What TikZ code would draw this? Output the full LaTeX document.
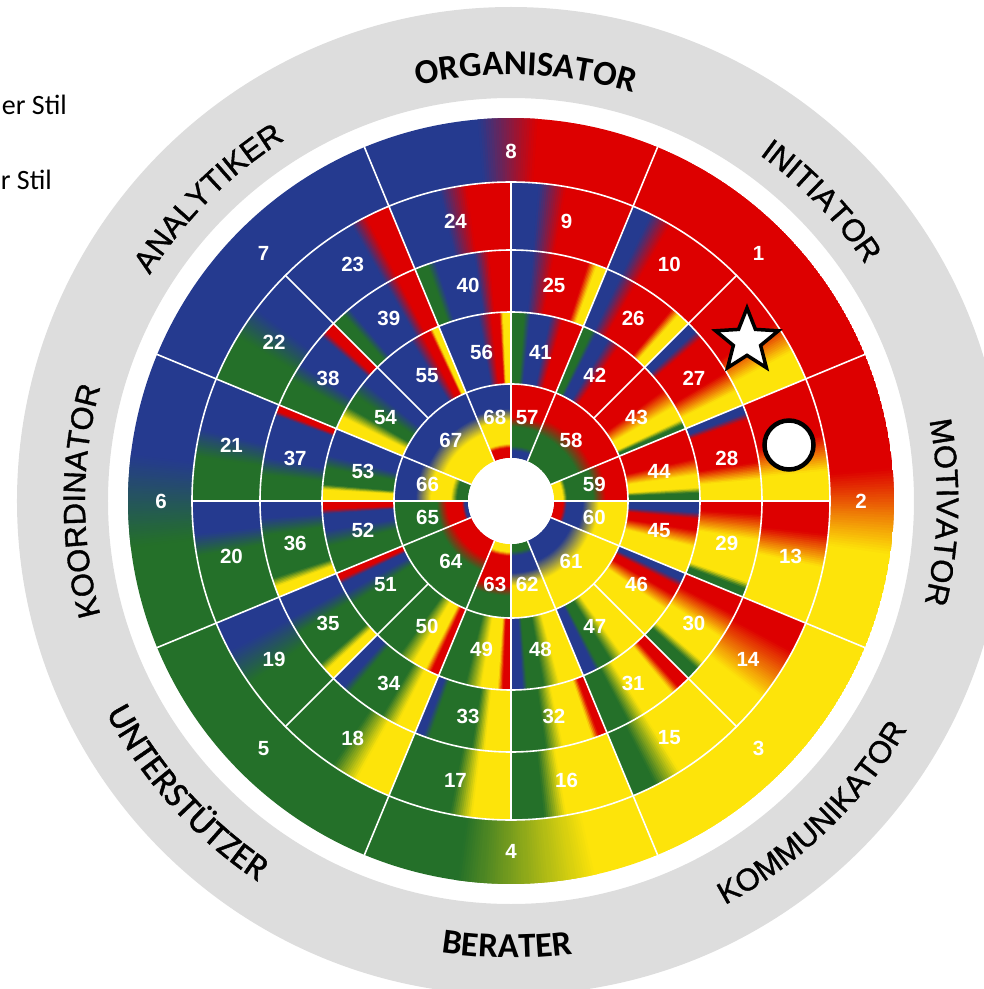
\documentclass[tikz,border=0pt]{standalone}
\usepackage{fontspec}
\usetikzlibrary{decorations.text,shapes.geometric}

\newfontfamily\helv{Liberation Sans}
\newfontfamily\helvmed{Liberation Sans}[FakeBold=1.2]
\newfontfamily\calib{Carlito}
\newfontfamily\calibmed{Carlito}[FakeBold=1.2]
\newcommand\helvcat{\helvmed\fontsize{31}{31}\selectfont}
\newcommand\calibcat{\calib\bfseries\fontsize{35}{35}\selectfont}
\newcommand\calibcatm{\calibmed\fontsize{36}{36}\selectfont}

\definecolor{cR}{RGB}{221,0,0}
\definecolor{cB}{RGB}{37,58,143}
\definecolor{cG}{RGB}{36,112,41}
\definecolor{cY}{RGB}{253,228,10}
\definecolor{ringgray}{RGB}{221,221,221}

\tikzset{
  numlabel/.style={text=white, inner sep=0pt, font=\helv\bfseries\fontsize{20.5}{21}\selectfont},
  sepline/.style={white, line width=1.6pt},
  catlabel/.style={decorate, decoration={text along path, text align=center, text={#1}}},
  badge/.style={draw=black, fill=white, line width=3.5pt, inner sep=0pt},
  legendtext/.style={anchor=base east, inner sep=0pt, font=\calib\fontsize{28}{28}\selectfont}
}

% angular band: rin rout a1 a2 c1 c2
\newcommand\angband[6]{%
  \edef\colA{#5}\edef\colB{#6}%
  \ifx\colA\colB \def\nsl{1}\else
    \pgfmathtruncatemacro\nsl{max(2,ceil(abs((#4)-(#3))/0.4))}\fi
  \foreach \i in {1,...,\nsl}{%
    \pgfmathsetmacro\slA{(#3)+((#4)-(#3))*(\i-1)/\nsl}%
    \pgfmathsetmacro\slB{(#3)+((#4)-(#3))*\i/\nsl+0.4*sign((#4)-(#3))}%
    \pgfmathtruncatemacro\mixp{100*(\i-0.5)/\nsl}%
    \fill[fill=\colB!\mixp!\colA] (\slA:#1) arc[start angle=\slA, end angle=\slB, radius=#1]
      -- (\slB:#2) arc[start angle=\slB, end angle=\slA, radius=#2] -- cycle;
  }}

% radial band: a1 a2 r1 r2 c1 c2
\newcommand\radband[6]{%
  \edef\colA{#5}\edef\colB{#6}%
  \ifx\colA\colB \def\nsl{1}\else
    \pgfmathtruncatemacro\nsl{max(2,ceil(abs((#4)-(#3))))}\fi
  \foreach \i in {1,...,\nsl}{%
    \pgfmathsetmacro\slR{(#3)+((#4)-(#3))*(\i-1)/\nsl}%
    \pgfmathsetmacro\slS{(#3)+((#4)-(#3))*\i/\nsl+0.6*sign((#4)-(#3))}%
    \pgfmathtruncatemacro\mixp{100*(\i-0.5)/\nsl}%
    \fill[fill=\colB!\mixp!\colA] (#1:\slR) arc[start angle=#1, end angle=#2, radius=\slR]
      -- (#2:\slS) arc[start angle=#2, end angle=#1, radius=\slS] -- cycle;
  }}

\newcommand\angsector[3]{%
  \gdef\firstA{}%
  \foreach \stA/\stC in {#3}{%
    \ifx\firstA\empty \xdef\firstA{\stA}\fi
    \xdef\lastA{\stA}}%
  \begin{scope}
    \clip (\firstA:#1) arc[start angle=\firstA, end angle=\lastA, radius=#1]
      -- (\lastA:#2) arc[start angle=\lastA, end angle=\firstA, radius=#2] -- cycle;
    \gdef\prevA{}%
    \foreach \stA/\stC in {#3}{%
      \ifx\prevA\empty\else \angband{#1}{#2}{\prevA}{\stA}{\prevC}{\stC}\fi
      \xdef\prevA{\stA}\xdef\prevC{\stC}}%
  \end{scope}}

\newcommand\radsector[3]{%
  \begin{scope}
    \clip (#1:43) arc[start angle=#1, end angle=#2, radius=43]
      -- (#2:117) arc[start angle=#2, end angle=#1, radius=117] -- cycle;
    \gdef\prevA{}%
    \foreach \stA/\stC in {#3}{%
      \ifx\prevA\empty\else \radband{#1}{#2}{\prevA}{\stA}{\prevC}{\stC}\fi
      \xdef\prevA{\stA}\xdef\prevC{\stC}}%
  \end{scope}}

\begin{document}
\begin{tikzpicture}[x=1pt, y=1pt]

  \useasboundingbox (-511,-488) rectangle (473,501);
  \clip (-511,-488) rectangle (473,501);

  \fill[ringgray, even odd rule] (0,0) circle[radius=494] (0,0) circle[radius=403];

  \node[legendtext] (legA) at (-444,386) {er Stil};
  \node[legendtext] (legB) at (-459,311) {r Stil};

  \angsector{319}{383}{112.5/cB, 95/cB, 86/cR, 67.5/cR}
  \angsector{319}{383}{67.5/cR, 22.5/cR}
  \angsector{319}{383}{22.5/cR, 5/cR, -8/cY, -22.5/cY}
  \angsector{319}{383}{-22.5/cY, -67.5/cY}
  \angsector{319}{383}{-67.5/cY, -77/cY, -98/cG, -112.5/cG}
  \angsector{319}{383}{-112.5/cG, -157.5/cG}
  \angsector{319}{383}{-157.5/cG, -173/cG, -187/cB, -202.5/cB}
  \angsector{319}{383}{157.5/cB, 112.5/cB}

  \angsector{251}{319}{90/cB, 85/cB, 80/cR, 67.5/cR}
  \angsector{251}{319}{67.5/cB, 64/cB, 60/cR, 45/cR}
  \angsector{251}{319}{45/cR, 34/cR, 28/cY, 22.5/cY}
  \angsector{251}{319}{22.5/cR, 12/cR, 5.5/cY, 0/cY}
  \angsector{251}{319}{0/cR, -6/cR, -12/cY, -22.5/cY}
  \angsector{251}{319}{-22.5/cR, -28/cR, -38/cY, -45/cY}
  \angsector{251}{319}{-45/cY, -58/cY, -63/cG, -67.5/cG}
  \angsector{251}{319}{-67.5/cY, -80/cY, -84/cG, -90/cG}
  \angsector{251}{319}{-90/cY, -97/cY, -101/cG, -112.5/cG}
  \angsector{251}{319}{-112.5/cY, -119/cY, -124/cG, -135/cG}
  \angsector{251}{319}{-135/cG, -145/cG, -152/cB, -157.5/cB}
  \angsector{251}{319}{-157.5/cG, -170/cG, -174/cB, -180/cB}
  \angsector{251}{319}{180/cG, 172/cG, 167/cB, 157.5/cB}
  \angsector{251}{319}{157.5/cG, 149/cG, 143/cB, 135/cB}
  \angsector{251}{319}{135/cB, 120/cB, 117/cR, 112.5/cR}
  \angsector{251}{319}{112.5/cB, 103/cB, 98/cR, 90/cR}

  \angsector{189}{251}{90/cB, 85/cB, 80/cR, 72/cR, 70/cY, 67.5/cY}
  \angsector{189}{251}{67.5/cB, 64/cB, 60/cR, 50/cR, 48/cY, 45/cY}
  \angsector{189}{251}{45/cB, 42.5/cB, 40.5/cR, 31/cR, 26/cY, 22.5/cY}
  \angsector{189}{251}{22.5/cB, 20.5/cB, 19/cR, 9/cR, 5/cY, 0/cY}
  \angsector{189}{251}{0/cR, -3/cR, -9/cY, -19/cY, -20.5/cG, -22.5/cG}
  \angsector{189}{251}{-22.5/cR, -27/cR, -33/cY, -40/cY, -42/cG, -45/cG}
  \angsector{189}{251}{-45/cR, -48/cR, -50/cY, -58/cY, -62/cG, -67.5/cG}
  \angsector{189}{251}{-67.5/cR, -69.5/cR, -71/cY, -78/cY, -82/cG, -90/cG}
  \angsector{189}{251}{-90/cY, -96/cY, -99/cG, -109/cG, -110.5/cB, -112.5/cB}
  \angsector{189}{251}{-112.5/cY, -117/cY, -121/cG, -130/cG, -132/cB, -135/cB}
  \angsector{189}{251}{-135/cY, -137.5/cY, -139.5/cG, -148/cG, -152/cB, -157.5/cB}
  \angsector{189}{251}{-157.5/cY, -160/cY, -162/cG, -172/cG, -176/cB, -180/cB}
  \angsector{189}{251}{180/cG, 174/cG, 170/cB, 160/cB, 159/cR, 157.5/cR}
  \angsector{189}{251}{157.5/cG, 151/cG, 147/cB, 139/cB, 137.5/cR, 135/cR}
  \angsector{189}{251}{135/cG, 132/cG, 130/cB, 120/cB, 117/cR, 112.5/cR}
  \angsector{189}{251}{112.5/cG, 109.5/cG, 107.5/cB, 98.5/cB, 95/cR, 90/cR}

  \angsector{117}{189}{90/cG, 86/cG, 84/cB, 78/cB, 74/cR, 67.5/cR}
  \angsector{117}{189}{67.5/cG, 64.5/cG, 63/cB, 59/cB, 55/cR, 45/cR}
  \angsector{117}{189}{45/cR, 36/cR, 30/cY, 25.5/cY, 24/cG, 22.5/cG}
  \angsector{117}{189}{22.5/cR, 13/cR, 8/cY, 4/cY, 2.5/cG, 0/cG}
  \angsector{117}{189}{0/cB, -3.5/cB, -5.5/cR, -9/cR, -14/cY, -22.5/cY}
  \angsector{117}{189}{-22.5/cB, -25/cB, -27/cR, -30/cR, -35/cY, -45/cY}
  \angsector{117}{189}{-45/cY, -54/cY, -58/cG, -62/cG, -63.5/cB, -67.5/cB}
  \angsector{117}{189}{-67.5/cY, -75/cY, -80/cG, -85/cG, -86.5/cB, -90/cB}
  \angsector{117}{189}{-90/cR, -92.5/cR, -94/cY, -99/cY, -104/cG, -112.5/cG}
  \angsector{117}{189}{-112.5/cR, -115/cR, -117/cY, -121/cY, -126/cG, -135/cG}
  \angsector{117}{189}{-135/cG, -147/cG, -151/cB, -154/cB, -155.5/cR, -157.5/cR}
  \angsector{117}{189}{-157.5/cG, -166/cG, -171/cB, -176/cB, -177.5/cR, -180/cR}
  \angsector{117}{189}{180/cY, 176.5/cY, 175/cG, 170/cG, 166/cB, 157.5/cB}
  \angsector{117}{189}{157.5/cY, 153.5/cY, 150/cG, 146/cG, 141/cB, 135/cB}
  \angsector{117}{189}{135/cB, 122/cB, 118/cR, 115.5/cR, 114.5/cY, 112.5/cY}
  \angsector{117}{189}{112.5/cB, 100/cB, 96/cR, 93.5/cR, 92.5/cY, 90/cY}

  \radsector{90}{67.5}{117/cR, 84/cR, 74/cG, 55/cG, 50/cB, 43/cB}
  \radsector{67.5}{22.5}{117/cR, 88/cR, 72/cG, 43/cG}
  \radsector{22.5}{0}{117/cR, 95/cR, 82/cG, 56/cG, 52/cY, 43/cY}
  \radsector{0}{-22.5}{117/cY, 88/cY, 72/cB, 56/cB, 52/cR, 43/cR}
  \radsector{-22.5}{-67.5}{117/cY, 85/cY, 65/cB, 43/cB}
  \radsector{-67.5}{-90}{117/cY, 85/cY, 72/cB, 55/cB, 50/cG, 43/cG}
  \radsector{-90}{-112.5}{117/cG, 95/cG, 85/cR, 55/cR, 51/cY, 43/cY}
  \radsector{-112.5}{-157.5}{117/cG, 76/cG, 62/cR, 43/cR}
  \radsector{-157.5}{-180}{117/cG, 74/cG, 64/cR, 49/cR, 46/cB, 43/cB}
  \radsector{180}{157.5}{117/cB, 95/cB, 80/cY, 60/cY, 54/cG, 43/cG}
  \radsector{157.5}{112.5}{117/cB, 90/cB, 72/cY, 43/cY}
  \radsector{112.5}{90}{117/cB, 92/cB, 80/cY, 57/cY, 53/cR, 43/cR}

  \foreach \r in {117,189,251,319}
    \draw[sepline] (0,0) circle[radius=\r];
  \foreach \a in {0,90,180,270}
    \draw[sepline] (\a:43) -- (\a:319);
  \foreach \a in {22.5,67.5,...,337.5}
    \draw[sepline] (\a:43) -- (\a:383);
  \foreach \a in {45,135,225,315}
    \draw[sepline] (\a:117) -- (\a:319);
  \fill[white] (0,0) circle[radius=43];

  \foreach \n/\a in {1/45, 2/0, 3/-45, 4/-90, 5/-135, 6/180, 7/135, 8/90}
    \node[numlabel] (n\n) at (\a:350) {\n};
  \foreach \n in {9,10,13,14,15,16,17,18,19,20,21,22,23,24}
    \node[numlabel] (n\n) at ({78.75-22.5*(\n-9)}:285) {\n};
  \foreach \n in {25,...,40}
    \node[numlabel] (n\n) at ({78.75-22.5*(\n-25)}:220) {\n};
  \foreach \n in {41,...,56}
    \node[numlabel] (n\n) at ({78.75-22.5*(\n-41)}:151) {\n};
  \foreach \n/\a in {57/79, 58/45, 59/11.25, 60/-11.25, 61/-45, 62/-79, 63/-101, 64/-135, 65/-168.75, 66/168.75, 67/135, 68/101}
    \node[numlabel] (n\n) at (\a:85) {\n};

  \node[badge, star, star points=5, star point ratio=2.3, minimum size=66pt] (bigstar) at (236,160) {};
  \node[badge, circle, line width=4.5pt, minimum size=49pt] (bigdot) at (278,56) {};

  \path[catlabel={|\helvcat|KOORDINATOR}] (225:426) arc[start angle=225, end angle=135, radius=426];
  \path[catlabel={|\helvcat|ANALYTIKER}] (180:426) arc[start angle=180, end angle=90, radius=426];
  \path[catlabel={|\calibcat|ORGANISATOR}] (133:426) arc[start angle=133, end angle=43, radius=426];
  \path[catlabel={|\helvcat|INITIATOR}] (89:426) arc[start angle=89, end angle=-1, radius=426];
  \path[catlabel={|\helvcat|MOTIVATOR}] (43.5:426) arc[start angle=43.5, end angle=-46.5, radius=426];
  \path[catlabel={|\helvcat|KOMMUNIKATOR}] (-91:457) arc[start angle=-91, end angle=-1, radius=457];
  \path[catlabel={|\calibcat|BERATER}] (-135.5:457) arc[start angle=-135.5, end angle=-45.5, radius=457];
  \path[catlabel={|\calibcatm|UNTERSTÜTZER}] (-183:457) arc[start angle=-183, end angle=-93, radius=457];

\end{tikzpicture}
\end{document}
